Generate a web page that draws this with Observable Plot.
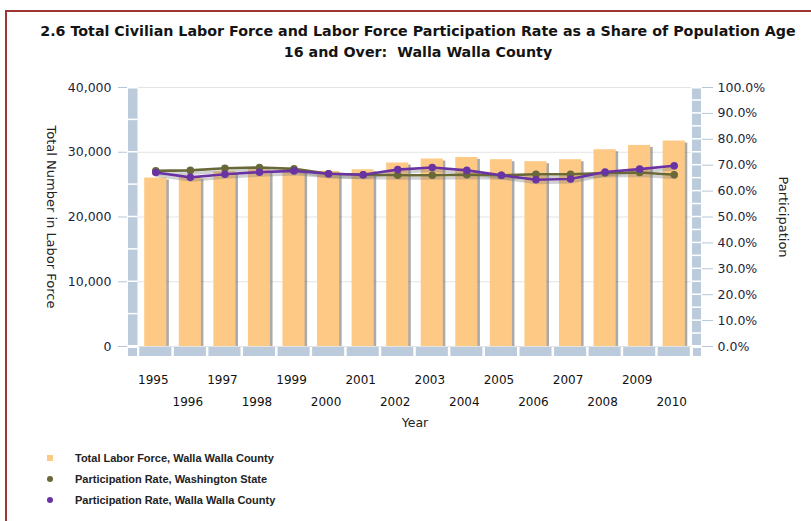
<!DOCTYPE html>
<html>
<head>
<meta charset="utf-8">
<script src="https://cdn.jsdelivr.net/npm/d3@7"></script>
<script src="https://cdn.jsdelivr.net/npm/@observablehq/plot@0.6"></script>
<style>
  html, body { margin: 0; padding: 0; background: #fff; }
  body { width: 811px; height: 521px; overflow: hidden; position: relative; font-family: "DejaVu Sans", sans-serif; }
  #frame { position: absolute; left: 5px; top: 10px; width: 830px; height: 560px; border: 2px solid #9e3535; box-sizing: border-box; }
  #title { position: absolute; left: 5px; width: 826px; top: 21px; text-align: center;
           font: bold 14.25px "DejaVu Sans", sans-serif; line-height: 21px; color: #141414; }
  #chart { position: absolute; left: 0; top: 65px; }
  .leg { position: absolute; left: 75px; font: bold 11px "Liberation Sans", Arial, sans-serif; color: #222; line-height: 14px; }
  .mk { position: absolute; }
</style>
</head>
<body>
<div id="frame"></div>
<div id="title">2.6 Total Civilian Labor Force and Labor Force Participation Rate as a Share of Population Age<br>16 and Over:&nbsp; Walla Walla County</div>
<div id="chart"></div>
<div id="legend"></div>
<script>
// ---- data ----
const years = [1995, 1996, 1997, 1998, 1999, 2000, 2001, 2002, 2003, 2004, 2005, 2006, 2007, 2008, 2009, 2010];
const laborForce = [26020, 26120, 27000, 27300, 27300, 27040, 27300, 28340, 28950, 29200, 28850, 28540, 28850, 30390, 31050, 31730];
const rateWashington = [67.8, 68.0, 68.8, 69.1, 68.6, 66.7, 66.3, 66.1, 66.1, 66.3, 66.1, 66.5, 66.5, 67.0, 67.2, 66.3];
const rateWallaWalla = [67.2, 65.3, 66.5, 67.3, 67.8, 66.7, 66.3, 68.3, 69.1, 68.0, 66.1, 64.4, 64.7, 67.4, 68.5, 69.8];
const leftTicks = [0, 10000, 20000, 30000, 40000];
const rightTicksPct = [0, 10, 20, 30, 40, 50, 60, 70, 80, 90, 100];
const seriesNames = ["Total Labor Force, Walla Walla County", "Participation Rate, Washington State", "Participation Rate, Walla Walla County"];
const seriesColors = ["#fdc985", "#686838", "#6a33a3"];

// ---- build ----
const yMax = 40000;
const k = yMax / 100; // percent -> left-axis units (dual axis)
const table = years.map((year, i) => ({year, labor: laborForce[i], wa: rateWashington[i], ww: rateWallaWalla[i]}));

const plot = Plot.plot({
  width: 811, height: 375,
  marginTop: 22, marginBottom: 94, marginLeft: 138, marginRight: 120,
  style: {fontFamily: "DejaVu Sans, sans-serif", fontSize: "12px", background: "transparent", color: "#222244"},
  x: {type: "band", domain: years, paddingInner: 0.36, paddingOuter: 0.18, round: false, label: null},
  y: {domain: [0, yMax], label: null},
  marks: [
    Plot.gridY(leftTicks, {stroke: "#e4e4e4", strokeOpacity: 1}),
    // bar shadows + bars
    Plot.barY(table, {x: "year", y: "labor", fill: "#555", fillOpacity: 0.5, dx: 2.5, dy: 2, insetBottom: 2}),
    Plot.barY(table, {x: "year", y: "labor", fill: seriesColors[0]}),
    // line shadows
    Plot.line(table, {x: "year", y: d => d.wa * k, stroke: "#777", strokeOpacity: 0.35, strokeWidth: 3, dx: 1, dy: 3}),
    Plot.line(table, {x: "year", y: d => d.ww * k, stroke: "#777", strokeOpacity: 0.35, strokeWidth: 3, dx: 1, dy: 3}),
    // Washington State
    Plot.line(table, {x: "year", y: d => d.wa * k, stroke: seriesColors[1], strokeWidth: 2.6}),
    Plot.dot(table, {x: "year", y: d => d.wa * k, fill: seriesColors[1], r: 3.8}),
    // Walla Walla County
    Plot.line(table, {x: "year", y: d => d.ww * k, stroke: seriesColors[2], strokeWidth: 2.6}),
    Plot.dot(table, {x: "year", y: d => d.ww * k, fill: seriesColors[2], r: 3.8}),
    // axes
    Plot.axisY(leftTicks, {anchor: "left", tickSize: 9, tickPadding: 7, dx: -11, stroke: "#b6c6d6",
      fill: "#1e1e40", tickFormat: d3.format(","), label: null, fontSize: 12.5, letterSpacing: 1}),
    Plot.axisY(rightTicksPct.map(p => p * k), {anchor: "right", tickSize: 11, tickPadding: 5, dx: 10, stroke: "#b6c6d6",
      fill: "#1e1e40", tickFormat: d => (d / k).toFixed(1) + "%", label: null, fontSize: 12.5, letterSpacing: 1.1}),
    Plot.axisX(years.filter((d, i) => i % 2 === 0), {anchor: "bottom", tickSize: 0, tickPadding: 29, dx: -2.5, fill: "#111", label: null, tickFormat: d => String(d)}),
    Plot.axisX(years.filter((d, i) => i % 2 === 1), {anchor: "bottom", tickSize: 0, tickPadding: 51, dx: -2.5, fill: "#111", label: null, tickFormat: d => String(d)}),
    Plot.text(["Year"], {frameAnchor: "bottom", dy: 80, fill: "#222", fontSize: 12.5, letterSpacing: 1}),
    Plot.text(["Total Number in Labor Force"], {frameAnchor: "left", textAnchor: "middle", dx: -87, rotate: 90, fill: "#222", fontSize: 13, letterSpacing: 0.25}),
    Plot.text(["Participation"], {frameAnchor: "right", textAnchor: "middle", dx: 92, rotate: 90, fill: "#222", fontSize: 13, letterSpacing: 0.3})
  ]
});

// ---- 3D-style axis walls drawn from the plot's scales ----
const sx = plot.scale("x"), sy = plot.scale("y");
const svg = d3.select(plot);
const deco = svg.append("g");
const wall = "#bccbdb";
const yTop = sy.apply(yMax), yBot = sy.apply(0);
const left = 138, right = 811 - 120;
// left wall
deco.append("rect").attr("x", left - 10).attr("y", yTop + 1.5).attr("width", 9.5).attr("height", yBot - yTop - 2.5).attr("fill", wall);
for (let v = 5000; v < yMax; v += 5000)
  deco.append("rect").attr("x", left - 10).attr("y", sy.apply(v) - 0.75).attr("width", 9.5).attr("height", 1.5).attr("fill", "#fff");
deco.append("rect").attr("x", left - 10).attr("y", yBot + 2).attr("width", 9).attr("height", 8).attr("fill", wall);
// right wall
deco.append("rect").attr("x", right + 1).attr("y", yTop + 1.5).attr("width", 9).attr("height", yBot - yTop - 2.5).attr("fill", wall);
for (let p = 5; p < 100; p += 5)
  deco.append("rect").attr("x", right + 1).attr("y", sy.apply(p * k) - 0.75).attr("width", 9).attr("height", 1.5).attr("fill", "#fff");
deco.append("rect").attr("x", right + 2).attr("y", yBot + 2).attr("width", 8).attr("height", 8).attr("fill", wall);
// floor segments, one per year band
const step = sx.step ?? (sx.bandwidth / (1 - 0.36));
for (const yr of years) {
  const c = sx.apply(yr) + sx.bandwidth / 2;
  deco.append("rect").attr("x", c - step / 2 + 1.3).attr("y", yBot + 1).attr("width", step - 2.5).attr("height", 9).attr("fill", wall);
}

document.getElementById("chart").appendChild(plot);

// ---- legend ----
const leg = document.getElementById("legend");
const rowsY = [458, 479, 500];
seriesNames.forEach((name, i) => {
  const t = document.createElement("div");
  t.className = "leg"; t.textContent = name; t.style.top = (rowsY[i] - 7) + "px";
  leg.appendChild(t);
  const m = document.createElement("div");
  m.className = "mk";
  m.style.background = seriesColors[i];
  m.style.left = "47px"; m.style.top = (rowsY[i] - 3) + "px"; m.style.width = "6px"; m.style.height = "6px";
  if (i > 0) m.style.borderRadius = "50%";
  leg.appendChild(m);
});
</script>
</body>
</html>
